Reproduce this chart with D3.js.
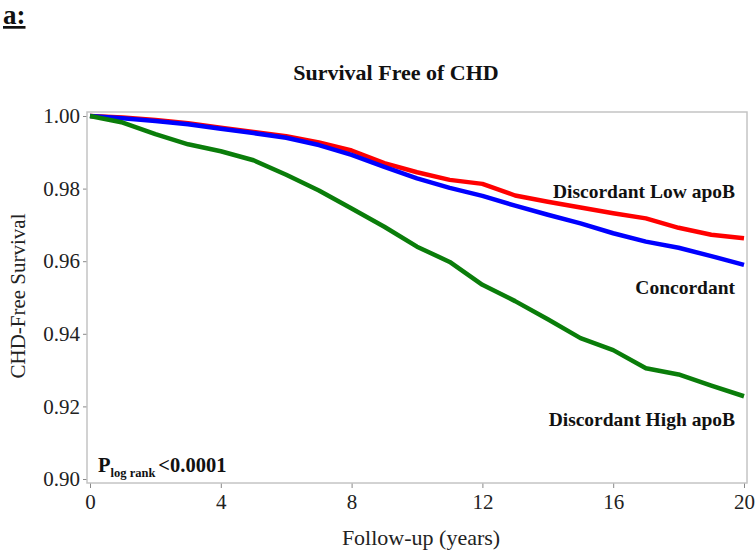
<!DOCTYPE html>
<html>
<head>
<meta charset="utf-8">
<script src="https://cdn.jsdelivr.net/npm/d3@7"></script>
<style>
  html, body { margin: 0; padding: 0; background: #fff; }
  svg { display: block; font-family: "Liberation Serif", "Times New Roman", serif; }
</style>
</head>
<body>
<svg id="chart" width="756" height="554"></svg>
<script>
// ---- data ----
const years = [0,1,2,3,4,5,6,7,8,9,10,11,12,13,14,15,16,17,18,19,20];
const lowApoB  = [1.000,0.9996,0.9989,0.9980,0.9968,0.9956,0.9944,0.9927,0.9905,0.9870,0.9845,0.9824,0.9813,0.9781,0.9764,0.9748,0.9732,0.9718,0.9692,0.9673,0.9663];
const concord  = [1.000,0.9994,0.9986,0.9977,0.9965,0.9953,0.9940,0.9920,0.9893,0.9860,0.9828,0.9802,0.9780,0.9753,0.9728,0.9704,0.9677,0.9654,0.9637,0.9614,0.9590];
const highApoB = [1.000,0.9982,0.9950,0.9922,0.9903,0.9878,0.9838,0.9795,0.9745,0.9695,0.9640,0.9598,0.9535,0.9490,0.9440,0.9388,0.9355,0.9305,0.9288,0.9257,0.9228];
const seriesNames = ["Discordant Low apoB","Concordant","Discordant High apoB"];
const seriesColors = ["#ff0000","#0000ff","#0a7d0a"];
const xTicks = [0,4,8,12,16,20];
const yTicks = [0.90,0.92,0.94,0.96,0.98,1.00];

const svg = d3.select("#chart");

const frame = {left: 87, right: 747, top: 112, bottom: 483};
const x = d3.scaleLinear().domain([0,20]).range([90, 744]);
const y = d3.scaleLinear().domain([0.90,1.00]).range([479, 116]);

// panel label
svg.append("text").attr("x", 3).attr("y", 24)
  .attr("font-size", 27).attr("font-weight", "bold").attr("fill", "#111")
  .attr("text-decoration", "underline").text("a:");

// title
svg.append("text").attr("x", 396).attr("y", 80).attr("text-anchor", "middle")
  .attr("font-size", 22).attr("font-weight", "bold").attr("fill", "#111")
  .text("Survival Free of CHD");

// axes
const yAxis = d3.axisLeft(y).tickValues(yTicks).tickFormat(d3.format(".2f")).tickSize(4).tickPadding(3);
const gy = svg.append("g").attr("transform", `translate(${frame.left},0)`).call(yAxis);
gy.select(".domain").remove();
gy.selectAll("line").attr("stroke", "#888");
gy.selectAll("text").attr("font-size", 21).attr("fill", "#222").attr("font-family", "Liberation Serif");

const xAxis = d3.axisBottom(x).tickValues(xTicks).tickFormat(d3.format("d")).tickSize(5).tickPadding(6);
const gx = svg.append("g").attr("transform", `translate(0,${frame.bottom})`).call(xAxis);
gx.select(".domain").remove();
gx.selectAll("line").attr("stroke", "#888");
gx.selectAll("text").attr("font-size", 21).attr("fill", "#222").attr("font-family", "Liberation Serif");

// frame rect
svg.append("rect").attr("x", frame.left).attr("y", frame.top)
  .attr("width", frame.right - frame.left).attr("height", frame.bottom - frame.top)
  .attr("fill", "none").attr("stroke", "#c4c4c4").attr("stroke-width", 1.5);

// axis titles
svg.append("text").attr("transform", "translate(25,296) rotate(-90)")
  .attr("text-anchor", "middle").attr("font-size", 21).attr("fill", "#222")
  .text("CHD-Free Survival");
svg.append("text").attr("x", 421).attr("y", 545).attr("text-anchor", "middle")
  .attr("font-size", 22).attr("fill", "#222").text("Follow-up (years)");

// curves
const line = d3.line().x((d, i) => x(years[i])).y(d => y(d)).curve(d3.curveLinear);
const allSeries = [lowApoB, concord, highApoB];
allSeries.forEach((s, i) => {
  svg.append("path").datum(s).attr("d", line)
    .attr("fill", "none").attr("stroke", seriesColors[i])
    .attr("stroke-width", 4.5).attr("stroke-linejoin", "round");
});

// series labels
const labelPos = [{y: 198}, {y: 294}, {y: 426}];
seriesNames.forEach((n, i) => {
  svg.append("text").attr("x", 735).attr("y", labelPos[i].y)
    .attr("text-anchor", "end").attr("font-size", 19.5).attr("font-weight", "bold")
    .attr("fill", "#111").text(n);
});

// p-value
const pt = svg.append("text").attr("x", 98).attr("y", 472)
  .attr("font-weight", "bold").attr("fill", "#111");
pt.append("tspan").attr("font-size", 20.5).text("P");
pt.append("tspan").attr("font-size", 12.5).attr("dy", 5).text("log rank");
pt.append("tspan").attr("font-size", 20.5).attr("dy", -5).attr("dx", 3).text("<0.0001");
</script>
</body>
</html>
